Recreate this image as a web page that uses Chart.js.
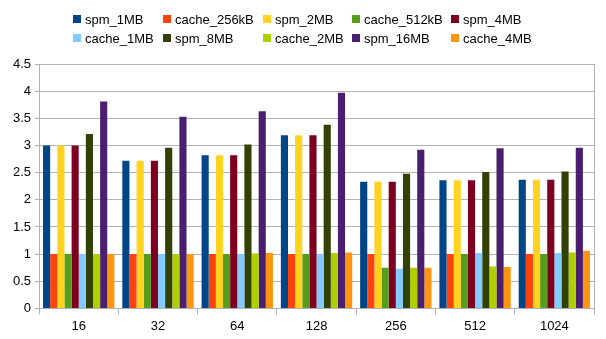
<!DOCTYPE html>
<html>
<head>
<meta charset="utf-8">
<script src="https://cdn.jsdelivr.net/npm/chart.js@4/dist/chart.umd.min.js"></script>
<style>
  html, body { margin: 0; padding: 0; background: #fff; }
  #wrap { position: relative; width: 606px; height: 339px; }
</style>
</head>
<body>
<div id="wrap"><canvas id="chart"></canvas></div>
<script>
const categories = ["16", "32", "64", "128", "256", "512", "1024"];

const seriesNames = ["spm_1MB", "cache_256kB", "spm_2MB", "cache_512kB", "spm_4MB",
  "cache_1MB", "spm_8MB", "cache_2MB", "spm_16MB", "cache_4MB"];

const spm_1MB     = [3.0, 2.72, 2.82, 3.19, 2.33, 2.36, 2.37];
const cache_256kB = [1.0, 1.0, 1.0, 1.0, 1.0, 1.0, 1.0];
const spm_2MB     = [3.0, 2.72, 2.82, 3.19, 2.33, 2.36, 2.37];
const cache_512kB = [1.0, 1.0, 1.0, 1.0, 0.75, 1.0, 1.0];
const spm_4MB     = [3.0, 2.72, 2.82, 3.19, 2.33, 2.36, 2.37];
const cache_1MB   = [1.0, 1.0, 1.0, 1.0, 0.73, 1.02, 1.02];
const spm_8MB     = [3.21, 2.96, 3.02, 3.38, 2.48, 2.51, 2.52];
const cache_2MB   = [1.0, 1.0, 1.01, 1.02, 0.75, 0.77, 1.03];
const spm_16MB    = [3.81, 3.53, 3.63, 3.97, 2.92, 2.95, 2.96];
const cache_4MB   = [1.0, 1.0, 1.02, 1.03, 0.75, 0.76, 1.06];

const yTicks = [0, 0.5, 1, 1.5, 2, 2.5, 3, 3.5, 4, 4.5];

const colors = ["#004586", "#ff420e", "#ffd320", "#579d1c", "#7e0021",
  "#83caff", "#314004", "#aecf00", "#4b1f6f", "#ff950e"];

const allValues = [spm_1MB, cache_256kB, spm_2MB, cache_512kB, spm_4MB,
  cache_1MB, spm_8MB, cache_2MB, spm_16MB, cache_4MB];

const FONT = "'Liberation Sans', Arial, sans-serif";

// legend laid out in a fixed grid like the original
const gridLegend = {
  id: "gridLegend",
  afterDraw(chart) {
    const ctx = chart.ctx;
    const cols = [73, 163, 263, 352, 451];
    const rows = [19, 38];
    ctx.save();
    ctx.font = "13px " + FONT;
    ctx.textBaseline = "middle";
    ctx.textAlign = "left";
    chart.data.datasets.forEach((ds, i) => {
      const x = cols[i % 5];
      const y = rows[Math.floor(i / 5)];
      ctx.fillStyle = ds.backgroundColor;
      ctx.fillRect(x, y - 4, 8, 8);
      ctx.fillStyle = "#000";
      ctx.fillText(ds.label, x + 12, y + 1);
    });
    // right border of the plot
    const a = chart.chartArea;
    ctx.strokeStyle = "#b3b3b3";
    ctx.lineWidth = 1;
    ctx.beginPath();
    ctx.moveTo(Math.round(a.right) + 0.5, a.top);
    ctx.lineTo(Math.round(a.right) + 0.5, a.bottom + 6);
    ctx.stroke();
    ctx.restore();
  }
};

const data = {
  labels: categories,
  datasets: seriesNames.map((name, i) => ({
    label: name,
    data: allValues[i],
    backgroundColor: colors[i],
    categoryPercentage: 0.9,
    barPercentage: 1.0
  }))
};

new Chart(document.getElementById("chart"), {
  type: "bar",
  data: data,
  plugins: [gridLegend],
  options: {
    responsive: true,
    maintainAspectRatio: false,
    animation: false,
    layout: { padding: { top: 64, right: 12, left: 9, bottom: 1 } },
    plugins: {
      legend: { display: false },
      tooltip: { enabled: false }
    },
    scales: {
      x: {
        grid: { drawOnChartArea: false, color: "#b3b3b3", tickLength: 6 },
        border: { color: "#b3b3b3" },
        ticks: { color: "#000", font: { family: FONT, size: 13 }, padding: 4 }
      },
      y: {
        min: 0,
        max: 4.5,
        afterBuildTicks: (axis) => { axis.ticks = yTicks.map(v => ({ value: v })); },
        grid: { color: "#b3b3b3", drawTicks: true, tickLength: 4 },
        border: { color: "#b3b3b3" },
        ticks: {
          color: "#000",
          font: { family: FONT, size: 13 },
          padding: 4,
          callback: (v) => String(v)
        }
      }
    }
  }
});
</script>
</body>
</html>
